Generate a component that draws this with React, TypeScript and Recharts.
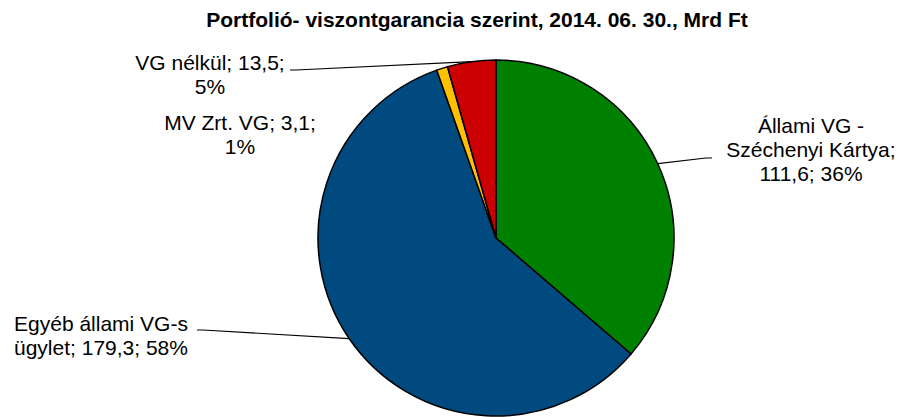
import { PieChart, Pie, Cell } from "recharts";

const categories = [
  "Állami VG - Széchenyi Kártya",
  "Egyéb állami VG-s ügylet",
  "MV Zrt. VG",
  "VG nélkül",
];
const values = [111.6, 179.3, 3.1, 13.5];
const shares = [36, 58, 1, 5];
const colors = ["#008000", "#004A80", "#FFC000", "#CC0000"];

const data = categories.map((name, i) => ({ name, value: values[i], share: shares[i] }));

const RAD = Math.PI / 180;
const FONT = "'Liberation Sans', Arial, sans-serif";

// label block: text centre / first baseline and leader start, relative to the pie centre
const labelLayout = [
  { dx: 315, dy: -105, maxChars: 17, leader: [216, -80] as number[] | null },
  { dx: -395, dy: 93, maxChars: 18, leader: [-299, 92] as number[] | null },
  { dx: -256, dy: -108, maxChars: 16, leader: null },
  { dx: -286, dy: -168, maxChars: 16, leader: [-206, -168] as number[] | null },
];

const fmt = (v: number) => v.toFixed(1).replace(".", ",");

function wrap(text: string, max: number) {
  const lines: string[] = [];
  let cur = "";
  for (const w of text.split(" ")) {
    const next = cur ? cur + " " + w : w;
    if (next.length > max && cur) {
      lines.push(cur);
      cur = w;
    } else cur = next;
  }
  if (cur) lines.push(cur);
  return lines;
}

const renderLabel = (props: any) => {
  const { cx, cy, midAngle, outerRadius, index } = props;
  const d = data[index];
  const lay = labelLayout[index];
  const lines = wrap(`${d.name}; ${fmt(d.value)}; ${d.share}%`, lay.maxChars);
  const ex = cx + outerRadius * Math.cos(-midAngle * RAD);
  const ey = cy + outerRadius * Math.sin(-midAngle * RAD);
  let leader = null;
  if (lay.leader) {
    const sx = cx + lay.leader[0];
    const sy = cy + lay.leader[1];
    const hx = sx + (ex > sx ? 6 : -6);
    leader = (
      <polyline
        points={`${sx},${sy} ${hx},${sy} ${ex},${ey}`}
        fill="none"
        stroke="#000"
        strokeWidth={1.2}
      />
    );
  }
  return (
    <g key={`lbl-${index}`}>
      {leader}
      <text
        x={cx + lay.dx}
        y={cy + lay.dy}
        textAnchor="middle"
        fontFamily={FONT}
        fontSize={21}
        fill="#000"
      >
        {lines.map((l, i) => (
          <tspan key={i} x={cx + lay.dx} dy={i === 0 ? 0 : 24}>
            {l}
          </tspan>
        ))}
      </text>
    </g>
  );
};

export default function App() {
  return (
    <div style={{ position: "absolute", left: 0, top: 0, width: 899, height: 417, background: "#fff" }}>
      <PieChart width={899} height={417} margin={{ top: 0, right: 0, bottom: 0, left: 0 }}>
        <text
          x={477}
          y={27}
          textAnchor="middle"
          fontFamily={FONT}
          fontSize={21}
          fontWeight="bold"
          fill="#000"
        >
          Portfolió- viszontgarancia szerint, 2014. 06. 30., Mrd Ft
        </text>
        <Pie
          data={data}
          dataKey="value"
          nameKey="name"
          cx={496}
          cy={238}
          outerRadius={178}
          startAngle={90}
          endAngle={-270}
          stroke="#000"
          strokeWidth={1.5}
          label={renderLabel}
          labelLine={false}
          isAnimationActive={false}
        >
          {data.map((_, i) => (
            <Cell key={i} fill={colors[i]} />
          ))}
        </Pie>
      </PieChart>
    </div>
  );
}
